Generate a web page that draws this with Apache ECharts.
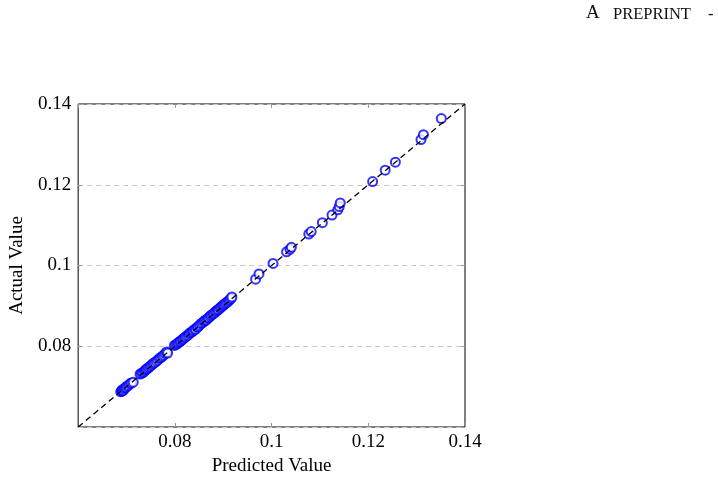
<!DOCTYPE html>
<html>
<head>
<meta charset="utf-8">
<script src="https://cdn.jsdelivr.net/npm/echarts@6/dist/echarts.min.js"></script>
<style>
  html, body { margin: 0; padding: 0; background: #fff; }
  #main { width: 718px; height: 482px; }
</style>
</head>
<body>
<div id="main"></div>
<script>
// predicted vs actual
const predicted = [
  0.0688, 0.0690, 0.0691, 0.0693, 0.0695, 0.0697, 0.0699, 0.0701, 0.0704, 0.0707, 0.0710, 0.0714,
  0.0728, 0.0731, 0.0734, 0.0737, 0.0739, 0.0741, 0.0744, 0.0746, 0.0749, 0.0751, 0.0754, 0.0756,
  0.0759, 0.0762, 0.0765, 0.0768, 0.0771, 0.0774, 0.0777, 0.0780, 0.0783, 0.0785,
  0.0799, 0.0802, 0.0805, 0.0807, 0.0810, 0.0812, 0.0815, 0.0817, 0.0820, 0.0822, 0.0825, 0.0828,
  0.0830, 0.0833, 0.0836, 0.0838, 0.0841, 0.0843, 0.0846, 0.0848, 0.0851, 0.0854,
  0.0857, 0.0860, 0.0862, 0.0865, 0.0868, 0.0870, 0.0873, 0.0875, 0.0878, 0.0880, 0.0883, 0.0885,
  0.0888, 0.0890, 0.0893, 0.0895, 0.0898, 0.0900, 0.0903, 0.0905, 0.0908, 0.0911, 0.0913, 0.0916, 0.0918,
  0.0967, 0.0974, 0.1003, 0.1031, 0.1038, 0.1041, 0.1077, 0.1082, 0.1105, 0.1125, 0.1137, 0.1140, 0.1142,
  0.1209, 0.1235, 0.1256, 0.1309, 0.1314, 0.1351
]
const actual = [
  0.0687, 0.0689, 0.0692, 0.0690, 0.0694, 0.0697, 0.0698, 0.0701, 0.0703, 0.0707, 0.0709, 0.0711,
  0.0731, 0.0733, 0.0735, 0.0738, 0.0741, 0.0743, 0.0745, 0.0748, 0.0750, 0.0753, 0.0756, 0.0758,
  0.0760, 0.0763, 0.0766, 0.0770, 0.0772, 0.0775, 0.0778, 0.0782, 0.0786, 0.0783,
  0.0802, 0.0804, 0.0806, 0.0809, 0.0811, 0.0813, 0.0816, 0.0818, 0.0821, 0.0823, 0.0826, 0.0828,
  0.0832, 0.0834, 0.0836, 0.0839, 0.0842, 0.0842, 0.0847, 0.0848, 0.0852, 0.0856,
  0.0858, 0.0861, 0.0864, 0.0865, 0.0869, 0.0871, 0.0874, 0.0877, 0.0879, 0.0881, 0.0884, 0.0887,
  0.0889, 0.0891, 0.0894, 0.0897, 0.0899, 0.0902, 0.0904, 0.0907, 0.0909, 0.0912, 0.0915, 0.0918, 0.0922,
  0.0966, 0.0979, 0.1005, 0.1034, 0.1040, 0.1045, 0.1078, 0.1084, 0.1106, 0.1125, 0.1138, 0.1146, 0.1155,
  0.1208, 0.1236, 0.1256, 0.1312, 0.1324, 0.1364
]
// y = x reference line
const diagonal = [[0.06, 0.06], [0.14, 0.14]]

const axisMin = 0.06
const axisMax = 0.14
const step = 0.02

const serif = 'Liberation Serif'

const chart = echarts.init(document.getElementById('main'))

const baseAxis = {
  type: 'value',
  min: axisMin,
  max: axisMax,
  interval: step,
  axisLine: { show: false },
  axisTick: { show: true, inside: true, length: 4, lineStyle: { color: '#999', width: 1 } },
  axisLabel: { show: false },
  splitLine: { show: false }
}

chart.setOption({
  animation: false,
  backgroundColor: '#fff',
  // running header of the page (small caps)
  graphic: [
    { type: 'text', x: 586, y: 3.5, style: { text: 'A', font: '19px "Liberation Serif"', fill: '#111' } },
    { type: 'text', x: 613, y: 6, style: { text: 'PREPRINT', font: '16.5px "Liberation Serif"', fill: '#111' } },
    { type: 'text', x: 708, y: 6, style: { text: '-', font: '16.5px "Liberation Serif"', fill: '#111' } }
  ],
  grid: {
    left: 76,
    top: 104,
    right: 253,
    bottom: 55,
    show: true,
    borderColor: '#000',
    borderWidth: 1
  },
  xAxis: [
    Object.assign({}, baseAxis, {
      position: 'bottom',
      name: 'Predicted Value',
      nameLocation: 'middle',
      nameGap: 25,
      nameTextStyle: { fontFamily: serif, fontSize: 19, color: '#000' },
      axisLabel: {
        show: true,
        showMinLabel: false,
        margin: 6,
        fontFamily: serif,
        fontSize: 19,
        color: '#000'
      }
    }),
    Object.assign({}, baseAxis, { position: 'top' })
  ],
  yAxis: [
    Object.assign({}, baseAxis, {
      position: 'left',
      name: 'Actual Value',
      nameLocation: 'middle',
      nameGap: 48,
      nameTextStyle: { fontFamily: serif, fontSize: 19, color: '#000' },
      axisLabel: {
        show: true,
        showMinLabel: false,
        margin: 7,
        fontFamily: serif,
        fontSize: 19,
        color: '#000'
      },
      splitLine: { show: true, lineStyle: { color: '#c8c8c8', type: [5, 4], width: 1 } }
    }),
    Object.assign({}, baseAxis, { position: 'right' })
  ],
  series: [
    {
      type: 'scatter',
      xAxisIndex: 0,
      yAxisIndex: 0,
      symbol: 'emptyCircle',
      symbolSize: 9,
      itemStyle: { color: '#0000ff', borderColor: '#0000ff', borderWidth: 1 },
      data: predicted.map((p, i) => [p, actual[i]]),
      z: 2
    },
    {
      type: 'line',
      xAxisIndex: 0,
      yAxisIndex: 0,
      showSymbol: false,
      symbol: 'none',
      lineStyle: { color: '#000', width: 1.3, type: [6, 4] },
      data: diagonal,
      z: 3
    }
  ]
})
</script>
</body>
</html>
